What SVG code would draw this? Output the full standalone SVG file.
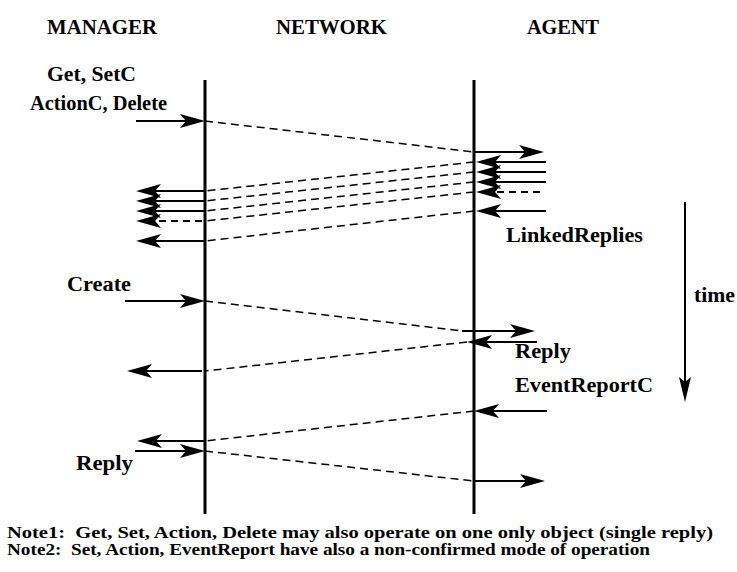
<svg xmlns="http://www.w3.org/2000/svg" width="737" height="572" viewBox="0 0 737 572">
  <style>
    text { font-family: "Liberation Serif", "Times New Roman", serif; font-weight: 700; fill: #000; }
    .hdr { font-size: 21px; }
    .lbl { font-size: 21px; }
    .note { font-size: 16px; }
    .life { stroke: #000; stroke-width: 3; fill: none; }
    .msg { stroke: #000; stroke-width: 2; fill: none; marker-end: url(#head); }
    .msg-dash { stroke: #000; stroke-width: 2; fill: none; stroke-dasharray: 7 5; marker-end: url(#head); }
    .transit { stroke: #000; stroke-width: 1.5; fill: none; stroke-dasharray: 8 5; }
    .axis { stroke: #000; stroke-width: 2; fill: none; marker-end: url(#head-thin); }
  </style>
  <defs>
    <!-- swept-back filled arrowhead; the line stops 10px short of the tip -->
    <marker id="head" viewBox="-26 -8 27 16" refX="-10" refY="0" markerWidth="27" markerHeight="16" markerUnits="userSpaceOnUse" orient="auto">
      <path d="M0,0 L-25,-7 L-19,0 L-25,7 Z" fill="#000"/>
    </marker>
    <marker id="head-thin" viewBox="-26 -8 27 16" refX="-10" refY="0" markerWidth="27" markerHeight="16" markerUnits="userSpaceOnUse" orient="auto">
      <path d="M0,0 L-25,-6 L-20,0 L-25,6 Z" fill="#000"/>
    </marker>
  </defs>

  <rect width="737" height="572" fill="#fff"/>

  <!-- participants -->
  <g id="manager">
    <text class="hdr" x="47" y="34" textLength="110" lengthAdjust="spacingAndGlyphs">MANAGER</text>
    <line class="life" x1="205" y1="80" x2="205" y2="514"/>
  </g>
  <g id="network">
    <text class="hdr" x="276" y="34" textLength="111" lengthAdjust="spacingAndGlyphs">NETWORK</text>
  </g>
  <g id="agent">
    <text class="hdr" x="527" y="34" textLength="72" lengthAdjust="spacingAndGlyphs">AGENT</text>
    <line class="life" x1="474" y1="80" x2="474" y2="514"/>
  </g>

  <!-- time axis -->
  <g id="time">
    <line class="axis" x1="685" y1="202" x2="685" y2="392"/>
    <text class="lbl" x="694" y="302" textLength="41" lengthAdjust="spacingAndGlyphs">time</text>
  </g>

  <!-- messages -->
  <g id="connectors">
    <!-- Get / Set / Action / Delete request -->
    <line class="msg" x1="136" y1="121" x2="195" y2="121"/>
    <line class="transit" x1="205" y1="121" x2="474" y2="152"/>
    <line class="msg" x1="474" y1="152" x2="534" y2="152"/>

    <!-- linked replies from the agent -->
    <line class="msg" x1="546" y1="162" x2="486" y2="162"/>
    <line class="msg" x1="546" y1="172" x2="486" y2="172"/>
    <line class="msg" x1="546" y1="182" x2="486" y2="182"/>
    <line class="msg-dash" x1="540" y1="192" x2="486" y2="192"/>
    <line class="msg" x1="546" y1="211" x2="486" y2="211"/>

    <line class="transit" x1="474" y1="162" x2="205" y2="191"/>
    <line class="transit" x1="474" y1="172" x2="205" y2="201"/>
    <line class="transit" x1="474" y1="182" x2="205" y2="211"/>
    <line class="transit" x1="474" y1="192" x2="205" y2="221"/>
    <line class="transit" x1="474" y1="211" x2="205" y2="241"/>

    <line class="msg" x1="205" y1="191" x2="146" y2="191"/>
    <line class="msg" x1="205" y1="201" x2="146" y2="201"/>
    <line class="msg" x1="205" y1="211" x2="146" y2="211"/>
    <line class="msg-dash" x1="202" y1="221" x2="146" y2="221"/>
    <line class="msg" x1="205" y1="241" x2="146" y2="241"/>

    <!-- Create and its reply -->
    <line class="msg" x1="125" y1="301" x2="195" y2="301"/>
    <line class="transit" x1="205" y1="301" x2="463" y2="331"/>
    <line class="msg" x1="462" y1="331" x2="525" y2="331"/>
    <line class="msg" x1="537" y1="342" x2="477" y2="342"/>
    <line class="transit" x1="467" y1="342" x2="205" y2="371"/>
    <line class="msg" x1="202" y1="371" x2="137" y2="371"/>

    <!-- confirmed event report and its reply -->
    <line class="msg" x1="547" y1="411" x2="484" y2="411"/>
    <line class="transit" x1="474" y1="411" x2="205" y2="441"/>
    <line class="msg" x1="205" y1="441" x2="147" y2="441"/>
    <line class="msg" x1="135" y1="451" x2="195" y2="451"/>
    <line class="transit" x1="205" y1="451" x2="474" y2="481"/>
    <line class="msg" x1="474" y1="481" x2="535" y2="481"/>
  </g>

  <!-- message labels -->
  <g id="labels">
    <text class="lbl" x="47" y="81" textLength="89" lengthAdjust="spacingAndGlyphs">Get, SetC</text>
    <text class="lbl" x="30" y="110" textLength="137" lengthAdjust="spacingAndGlyphs">ActionC, Delete</text>
    <text class="lbl" x="506" y="242" textLength="137" lengthAdjust="spacingAndGlyphs">LinkedReplies</text>
    <text class="lbl" x="67" y="291" textLength="64" lengthAdjust="spacingAndGlyphs">Create</text>
    <text class="lbl" x="515" y="358" textLength="56" lengthAdjust="spacingAndGlyphs">Reply</text>
    <text class="lbl" x="515" y="392" textLength="138" lengthAdjust="spacingAndGlyphs">EventReportC</text>
    <text class="lbl" x="76" y="470" textLength="57" lengthAdjust="spacingAndGlyphs">Reply</text>
  </g>

  <!-- footnotes -->
  <g id="notes">
    <text class="note" x="7" y="538" textLength="706" lengthAdjust="spacingAndGlyphs" xml:space="preserve">Note1:  Get, Set, Action, Delete may also operate on one only object (single reply)</text>
    <text class="note" x="7" y="555" textLength="643" lengthAdjust="spacingAndGlyphs" xml:space="preserve">Note2:  Set, Action, EventReport have also a non-confirmed mode of operation</text>
  </g>
</svg>
